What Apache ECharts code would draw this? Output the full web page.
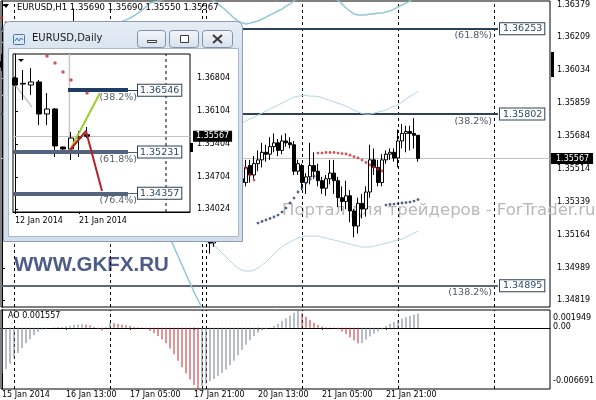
<!DOCTYPE html>
<html><head><meta charset="utf-8">
<script src="https://cdn.jsdelivr.net/npm/echarts@6/dist/echarts.min.js"></script>
<style>html,body{margin:0;padding:0;background:#fff}#c{width:596px;height:400px}</style>
</head><body><div id="c"></div>
<script>
// ---------------- DATA (main H1 chart) ----------------
const headerText = 'EURUSD,H1 1.35690 1.35690 1.35550 1.35567';
const barOpen = [1.36080,1.36050,1.36040,1.36040,1.36080,1.36120,1.36160,1.36140,1.36110,1.36130,1.36190,1.36230,1.36170,1.36110,1.36150,1.36200,1.36250,1.36220,1.36160,1.36240,1.36210,1.36180,1.36200,1.36170,1.36150,1.36160,1.36150,
1.36146,1.36120,1.36090,1.36040,1.36010,1.35990,1.35970,1.35900,1.35800,1.35690,1.35640,1.35580,1.35520,1.35460,1.35420,1.35330,1.35280,1.35360,1.35400,1.35350,1.35320,1.35340,1.35350,
1.35339,1.35297,1.35180,1.35120,1.35200,1.35260,1.35300,1.35330,1.35370,1.35420,1.35460,
1.35440,1.35530,1.35480,1.35540,1.35560,1.35600,1.35590,1.35630,1.35650,1.35610,1.35660,1.35650,1.35640,1.35500,
1.35530,1.35440,1.35470,1.35530,1.35500,1.35450,1.35410,1.35460,1.35490,1.35450,1.35360,1.35340,1.35370,1.35290,1.35210,1.35330,1.35300,1.35390,1.35560,1.35520,1.35440,1.35560,1.35590,1.35600,
1.35570,1.35660,1.35700,1.35710,1.35700,1.35690];
const barHigh = [1.36120,1.36090,1.36070,1.36100,1.36150,1.36180,1.36210,1.36170,1.36150,1.36200,1.36260,1.36280,1.36240,1.36180,1.36220,1.36280,1.36285,1.36270,1.36360,1.36280,1.36260,1.36230,1.36240,1.36210,1.36190,1.36190,1.36180,
1.36167,1.36150,1.36120,1.36070,1.36050,1.36030,1.36000,1.35940,1.35850,1.35760,1.35700,1.35640,1.35590,1.35520,1.35480,1.35420,1.35380,1.35440,1.35450,1.35400,1.35380,1.35390,1.35380,
1.35350,1.35320,1.35220,1.35230,1.35290,1.35320,1.35350,1.35390,1.35460,1.35500,1.35520,
1.35560,1.35560,1.35580,1.35610,1.35650,1.35640,1.35680,1.35700,1.35670,1.35690,1.35700,1.35680,1.35660,1.35560,
1.35540,1.35490,1.35650,1.35600,1.35540,1.35470,1.35480,1.35560,1.35560,1.35470,1.35420,1.35450,1.35400,1.35300,1.35360,1.35380,1.35420,1.35640,1.35620,1.35560,1.35590,1.35610,1.35620,1.35620,
1.35720,1.35750,1.35740,1.35740,1.35781,1.35690];
const barLow = [1.36030,1.36010,1.36000,1.36020,1.36060,1.36090,1.36120,1.36100,1.36080,1.36110,1.36150,1.36140,1.36080,1.36050,1.36100,1.36160,1.36190,1.36120,1.36100,1.36180,1.36130,1.36140,1.36150,1.36120,1.36110,1.36130,1.36120,
1.36100,1.36070,1.36020,1.35980,1.35960,1.35940,1.35880,1.35760,1.35650,1.35600,1.35540,1.35490,1.35420,1.35380,1.35290,1.35210,1.35127,1.35300,1.35330,1.35290,1.35280,1.35300,1.35320,
1.35280,1.35150,1.35064,1.35100,1.35170,1.35220,1.35260,1.35290,1.35340,1.35380,1.35410,
1.35420,1.35440,1.35460,1.35500,1.35520,1.35550,1.35560,1.35600,1.35580,1.35590,1.35630,1.35620,1.35480,1.35480,
1.35400,1.35380,1.35430,1.35460,1.35420,1.35380,1.35370,1.35430,1.35380,1.35310,1.35290,1.35300,1.35230,1.35150,1.35170,1.35250,1.35260,1.35360,1.35480,1.35420,1.35420,1.35540,1.35560,1.35550,
1.35520,1.35620,1.35600,1.35610,1.35620,1.35550];
const barClose = [1.36050,1.36040,1.36040,1.36080,1.36120,1.36160,1.36140,1.36110,1.36130,1.36190,1.36230,1.36170,1.36110,1.36150,1.36200,1.36250,1.36220,1.36160,1.36240,1.36210,1.36180,1.36200,1.36170,1.36150,1.36160,1.36150,1.36146,
1.36120,1.36090,1.36040,1.36010,1.35990,1.35970,1.35900,1.35800,1.35690,1.35640,1.35580,1.35520,1.35460,1.35420,1.35330,1.35280,1.35360,1.35400,1.35350,1.35320,1.35340,1.35350,1.35361,
1.35297,1.35180,1.35120,1.35200,1.35260,1.35300,1.35330,1.35370,1.35420,1.35460,1.35440,
1.35520,1.35480,1.35540,1.35560,1.35600,1.35590,1.35630,1.35650,1.35610,1.35660,1.35650,1.35640,1.35500,1.35540,
1.35440,1.35470,1.35530,1.35500,1.35450,1.35410,1.35460,1.35490,1.35450,1.35360,1.35340,1.35370,1.35290,1.35210,1.35330,1.35300,1.35390,1.35560,1.35520,1.35440,1.35560,1.35590,1.35600,1.35570,
1.35660,1.35700,1.35710,1.35700,1.35690,1.35567];

const bandOuterUpper = [1.36180,1.36185,1.36190,1.36195,1.36200,1.36205,1.36210,1.36215,1.36220,1.36225,1.36230,1.36235,1.36240,1.36245,1.36250,1.36255,1.36258,1.36260,1.36262,1.36264,1.36266,1.36268,1.36270,1.36272,1.36274,1.36276,1.36278,
1.36280,1.36283,1.36287,1.36292,1.36300,1.36310,1.36322,1.36336,1.36352,1.36368,1.36389,1.36395,1.36400,1.36405,1.36412,1.36420,1.36428,1.36436,
1.36444,1.36450,1.36452,1.36450,1.36445,1.36438,1.36428,1.36415,1.36400,1.36385,1.36368,1.36350,1.36330,1.36310,1.36295,1.36285,
1.36278,1.36283,1.36289,1.36294,1.36305,1.36315,1.36326,1.36336,1.36347,1.36357,1.36373,1.36384,1.36400,1.36416,1.36431,1.36442,1.36447,1.36447,1.36442,1.36431,1.36421,1.36416,1.36410,1.36405,
1.36384,1.36363,1.36347,1.36331,1.36326,1.36326,1.36326,1.36331,1.36331,1.36336,1.36336,1.36342,1.36347,1.36357,1.36368,1.36379,1.36389,1.36400,1.36416,1.36431];
const bandInnerUpper = [1.36240,1.36245,1.36250,1.36255,1.36260,1.36262,1.36265,1.36268,1.36270,1.36270,1.36270,1.36268,1.36265,1.36262,1.36260,1.36258,1.36255,1.36252,1.36250,1.36250,1.36248,1.36245,1.36242,1.36240,1.36238,1.36235,1.36232,
1.36230,1.36228,1.36225,1.36222,1.36220,1.36220,1.36222,1.36225,1.36230,1.36235,1.36240,1.36240,1.36238,1.36230,1.36220,1.36200,1.36170,1.36130,1.36080,1.36030,1.35980,1.35930,1.35880,1.35840,1.35800,1.35770,1.35750,1.35740,1.35735,1.35735,1.35740,1.35745,1.35750,1.35755,
1.35765,1.35776,1.35786,1.35797,1.35807,1.35818,1.35829,1.35839,1.35850,1.35860,1.35871,1.35881,1.35892,1.35897,1.35900,1.35900,1.35897,1.35897,1.35895,1.35889,1.35881,1.35874,1.35866,1.35860,
1.35852,1.35844,1.35834,1.35823,1.35813,1.35805,1.35802,1.35802,1.35807,1.35813,1.35818,1.35823,1.35834,1.35844,1.35852,1.35866,1.35881,1.35897,1.35908,1.35924];
const bandInnerLower = [1.35990,1.35992,1.35994,1.35996,1.35998,1.36000,1.36002,1.36004,1.36006,1.36008,1.36010,1.36012,1.36014,1.36015,1.36016,1.36017,1.36018,1.36018,1.36018,1.36017,1.36016,1.36015,1.36014,1.36012,1.36010,1.36008,1.36005,
1.35982,1.35955,1.35929,1.35876,1.35823,1.35770,1.35718,1.35665,1.35612,1.35559,1.35506,1.35453,1.35400,1.35347,1.35305,1.35268,1.35231,1.35199,1.35178,1.35162,1.35152,1.35141,1.35136,1.35131,1.35125,1.35120,
1.35109,1.35088,1.35067,1.35046,1.35025,1.35004,1.34988,1.34977,1.34972,1.34972,1.34977,1.34988,1.35004,1.35020,1.35041,1.35062,1.35083,1.35099,1.35115,1.35125,1.35136,1.35147,1.35152,1.35157,
1.35157,1.35157,1.35157,1.35152,1.35147,1.35141,1.35136,1.35131,1.35125,1.35120,1.35115,1.35109,1.35104,1.35099,1.35099,1.35099,1.35104,1.35109,1.35115,1.35120,1.35125,1.35131,1.35136,1.35141,1.35152,1.35162,1.35173,1.35183];
const bandOuterLower = [1.35900,1.35902,1.35904,1.35906,1.35908,1.35910,1.35912,1.35914,1.35915,1.35916,1.35917,1.35918,1.35918,1.35918,1.35917,1.35916,1.35915,1.35914,1.35912,1.35910,1.35908,1.35906,1.35904,1.35902,1.35900,1.35898,1.35895,
1.35890,1.35880,1.35860,1.35840,1.35810,1.35770,1.35720,1.35660,1.35590,1.35510,1.35430,1.35350,1.35290,1.35240,1.35189,1.35147,1.35099,1.35051,1.35004,1.34956,1.34909,1.34861,1.34819,1.34776,
1.34730,1.34690,1.34650,1.34620,1.34590,1.34570,1.34550,1.34540,1.34530,1.34525,1.34520,1.34515,1.34512,1.34510,1.34510,1.34512,1.34515,1.34520,1.34525,1.34530,1.34535,1.34540,1.34545,1.34550,
1.34555,1.34560,1.34565,1.34570,1.34575,1.34580,1.34585,1.34590,1.34595,1.34600,1.34600,1.34600,1.34600,1.34600,1.34600,1.34600,1.34600,1.34600,1.34600,1.34600,1.34600,1.34600,1.34600,1.34600,1.34600,1.34600,1.34600,1.34600,1.34600,1.34600];

// Parabolic SAR: dots above price (red) and below price (blue); null where absent
const sarAbove = [1.36310,1.36285,1.36270,1.36255,null,null,null,null,null,null,null,null,null,null,null,null,null,null,null,null,
1.36280,1.36275,1.36270,1.36265,1.36260,1.36255,1.36250,1.36245,1.36240,1.36235,1.36228,1.36220,
1.36205,1.36185,1.36160,1.36130,1.36095,1.36055,1.36010,1.35960,1.35905,1.35845,1.35780,1.35715,
1.35700,1.35690,1.35680,1.35670,1.35660,1.35650,1.35640,1.35630,1.35620,1.35610,1.35600,1.35590,1.35580,1.35570,1.35560,1.35545,1.35530,
1.35517,1.35480,1.35453,null,null,null,null,null,null,null,null,null,null,null,null,null,null,null,
1.35596,1.35596,1.35599,1.35599,1.35599,1.35596,1.35593,1.35591,1.35585,1.35577,1.35570,1.35559,1.35546,1.35533,1.35522,1.35511,1.35501,
null,null,null,null,null,null,null,null,null];
const sarBelow = [null,null,null,null,1.36000,1.36003,1.36008,1.36015,1.36022,1.36030,1.36040,1.36050,1.36062,1.36075,1.36090,1.36100,1.36110,1.36120,1.36130,1.36140,
null,null,null,null,null,null,null,null,null,null,null,null,null,null,null,null,null,null,null,null,null,null,null,null,
null,null,null,null,null,null,null,null,null,null,null,null,null,null,null,null,null,
null,null,null,1.35226,1.35234,1.35242,1.35250,1.35258,1.35268,1.35284,1.35305,1.35332,1.35358,1.35390,1.35411,1.35437,1.35458,1.35474,
null,null,null,null,null,null,null,null,null,null,null,null,null,null,null,null,null,
1.35321,1.35324,1.35326,1.35329,1.35332,1.35334,1.35337,1.35342,1.35350];

// Awesome Oscillator
const aoValues = [-0.00497,-0.00451,-0.00390,-0.00330,-0.00275,-0.00220,-0.00170,-0.00125,-0.00080,-0.00045,
-0.00020,-0.00008,0.00002,0.00006,0.00010,0.00012,0.00016,0.00022,0.00030,0.00036,0.00040,
0.00034,0.00025,0.00010,-0.00010,-0.00030,0.00010,0.00055,
0.00050,0.00042,0.00035,0.00028,0.00020,0.00012,0.00005,-0.00002,-0.00008,
-0.00035,-0.00060,-0.00090,-0.00125,-0.00170,-0.00225,-0.00290,-0.00360,-0.00430,-0.00500,-0.00565,-0.00625,-0.006691,
-0.00640,-0.00610,-0.00585,-0.00560,-0.00530,-0.00495,-0.00455,-0.00410,-0.00360,-0.00300,-0.00240,-0.00185,-0.00135,-0.00090,-0.00055,-0.00030,-0.00012,-0.00002,
0.00020,0.00045,0.00075,0.00105,0.00135,0.00165,0.001949,
0.00160,0.00120,0.00085,0.00055,0.00030,0.00015,0.00005,-0.00002,-0.00008,-0.00015,
-0.00040,-0.00070,-0.00105,-0.00140,-0.00170,
-0.00165,-0.00130,-0.00095,-0.00065,-0.00040,-0.00015,
0.00020,0.00045,0.00065,0.00085,0.00100,0.00115,0.00128,0.00142,0.001557];
const aoHeader = 'AO 0.001557';

const priceTicks = [1.36379,1.36209,1.36034,1.35859,1.35684,1.35514,1.35339,1.35164,1.34989,1.34819];
const aoTicks = [0.001949, 0, -0.006691];
const aoTickLabels = ['0.001949','0.00','-0.006691'];
const xTickIndex = [0,16,32,48,64,80,96];
const xTickLabels = ['15 Jan 2014','16 Jan 13:00','17 Jan 05:00','17 Jan 21:00','20 Jan 13:00','21 Jan 05:00','21 Jan 21:00'];
const daySeparators = [3,27,50,51,75,99,123];
const fibLevels = [1.36253,1.35802,1.34895];
const fibPercents = ['(61.8%)','(38.2%)','(138.2%)'];
const fibEndIndex = 124;
const lastPrice = 1.35567;
const watermark = 'Портал для трейдеров - ForTrader.ru';
const brand = 'WWW.GKFX.RU';

// ---------------- DATA (inset daily chart) ----------------
const insetTitle = 'EURUSD,Daily';
const dailyOpen  = [1.36804,1.36690,1.36655,1.36719,1.36040,1.36146,1.35339,1.35297,1.35530,1.35600];
const dailyHigh  = [1.36830,1.36973,1.37016,1.36761,1.36485,1.36167,1.35350,1.35658,1.35679,1.35764];
const dailyLow   = [1.36630,1.36337,1.36443,1.35806,1.35806,1.35127,1.35280,1.35064,1.35127,1.35530];
const dailyClose = [1.36655,1.36676,1.36719,1.36040,1.36146,1.35361,1.35297,1.35530,1.35552,1.35567];
const dailySar   = [null,null,null,null,1.37271,1.37122,1.36931,1.36761,null,1.36485];
const dailyTickIndex = [0,8];
const dailyTickLabels = ['12 Jan 2014','21 Jan 2014'];
const insetTicks = [1.36804,1.36104,1.35404,1.34704,1.34024];
const insetFibLevels = [1.36546,1.35231,1.34357];
const insetFibPercents = ['(38.2%)','(61.8%)','(76.4%)'];
const insetFibStart = [6.625,-0.25,-0.25];
const insetFibEnd = 14.125;
const insetFibLabelAt = 15.375;
const insetGreenLine = [[6.875,1.35276],[10.625,1.36485]];
const insetRedLine = [[6.875,1.35276],[8.875,1.35679],[10.875,1.34406]];
const insetGrayTrend = [[-0.25,1.36719],[2.125,1.36188]];
// vertical lines in the inset: [x, from price, to price]
const insetSeparatorLines = [[18.875,1.33960,1.37313]];
const insetGrayVerticalLines = [[6.8,1.35231,1.37313]];

// ---------------- CHART ----------------
const FONT = 'DejaVu Sans';
const fmt5 = v => v.toFixed(5);
const nearestIdx = (arr, v) => { let b = 0; for (let i = 1; i < arr.length; i++) if (Math.abs(arr[i]-v) < Math.abs(arr[b]-v)) b = i; return b; };

const X_MIN = -0.25, X_MAX = 137, Y_MIN = 1.34782, Y_MAX = 1.36400;
const IX_MIN = -0.25, IX_MAX = 21.875, IY_MIN = 1.33960, IY_MAX = 1.37313;

const candleData = barOpen.map((o,i)=>[i,o,barClose[i],barLow[i],barHigh[i]]);
const toXY = arr => arr.map((v,i)=>[i,v]);
const AO_UP = '#6f7c8c', AO_DOWN = '#c22a30';
const aoData = aoValues.map((v,i)=>({value:[i,v], itemStyle:{color: (i===0 || v > aoValues[i-1]) ? AO_UP : AO_DOWN}}));
const dailyData = dailyOpen.map((o,i)=>[i,o,dailyClose[i],dailyLow[i],dailyHigh[i]]);

const fibColors = ['#2d4254','#2d4254','#5b6878'];
const fibMarks = [];
fibLevels.forEach((lv,k)=>{
  const ls = {color: fibColors[k], width: 2, type:'solid'};
  fibMarks.push([{coord:[X_MIN,lv], lineStyle: ls, label:{show:true, position:'end', distance:2, formatter: fmt5(lv),
      backgroundColor:'#fff', borderColor:'#2d4254', borderWidth:1, padding:[1,2,0,3], color:'#2d4a60', fontSize:9.5, fontFamily:FONT}},
    {coord:[fibEndIndex,lv]}]);
  fibMarks.push([{coord:[X_MIN,lv], lineStyle: ls, label:{show:true, position:'insideEndBottom', distance:[6,2], formatter: fibPercents[k],
      color:'#505a64', fontSize:9.5, fontFamily:FONT}},
    {coord:[fibEndIndex,lv]}]);
});

const insetMarks = [];
const insetFibColors = ['#1f3c66','#56637f','#56637f'];
insetFibLevels.forEach((lv,k)=>{
  insetMarks.push([{coord:[insetFibStart[k],lv], lineStyle:{color:insetFibColors[k], width:4, type:'solid'}, label:{show:false}},{coord:[insetFibEnd,lv]}]);
  insetMarks.push([{coord:[insetFibEnd,lv], lineStyle:{color:insetFibColors[k], width:1, type:'solid'}, label:{show:true, position:'end', distance:0, formatter: fmt5(lv),
      backgroundColor:'#fff', borderColor:'#2d4254', borderWidth:1, padding:[1,2,0,2], color:'#2d4a60', fontSize:9.5, fontFamily:FONT}},{coord:[insetFibLabelAt,lv]}]);
  insetMarks.push([{coord:[insetFibEnd,lv], lineStyle:{color:insetFibColors[k], width:1, type:'solid'}, label:{show:true, position:'insideEndBottom', distance:[1,2], formatter: insetFibPercents[k],
      color:'#56606c', fontSize:9.5, fontFamily:FONT}},{coord:[insetFibLabelAt,lv]}]);
});

// custom renderer for vertical segments in data coordinates
const verticalSegment = (stroke, width, dash) => (params, api) => {
  const a = api.coord([api.value(0), api.value(1)]);
  const b = api.coord([api.value(0), api.value(2)]);
  return {type:'line', shape:{x1:a[0], y1:a[1], x2:b[0], y2:b[1]}, style:{stroke:stroke, lineWidth:width, lineDash:dash, fill:null}};
};

const axisLabelBase = {color:'#000', fontSize:8, fontFamily:FONT};
const chart = echarts.init(document.getElementById('c'), null, {renderer:'canvas', width:596, height:400});
const Z = 60;

chart.setOption({
  animation:false,
  textStyle:{fontFamily:FONT},
  grid:[
    {left:1, top:1, width:549, height:306, show:true, borderColor:'#000', borderWidth:1, backgroundColor:'transparent', outerBoundsMode:'none', containLabel:false},
    {left:1, top:310, width:549, height:79, show:true, borderColor:'#000', borderWidth:1, backgroundColor:'transparent', outerBoundsMode:'none', containLabel:false},
    {left:13, top:54, width:177, height:158, show:true, borderColor:'#000', borderWidth:1, backgroundColor:'#fff', z:Z, outerBoundsMode:'none', containLabel:false}
  ],
  xAxis:[
    {gridIndex:0, type:'value', min:X_MIN, max:X_MAX, show:false},
    {gridIndex:1, type:'value', min:X_MIN, max:X_MAX,
      axisLine:{show:true, lineStyle:{color:'#000'}}, splitLine:{show:false},
      axisTick:{show:true, customValues:xTickIndex, length:2, lineStyle:{color:'#000'}},
      axisLabel:Object.assign({}, axisLabelBase, {customValues:xTickIndex, align:'left', margin:2,
        formatter:v=>xTickLabels[nearestIdx(xTickIndex,v)]})},
    {gridIndex:2, type:'value', min:IX_MIN, max:IX_MAX, z:Z,
      axisLine:{show:true, lineStyle:{color:'#000'}}, splitLine:{show:false},
      axisTick:{show:true, customValues:dailyTickIndex, length:2, lineStyle:{color:'#000'}},
      axisLabel:Object.assign({}, axisLabelBase, {customValues:dailyTickIndex, align:'left', margin:5,
        formatter:v=>dailyTickLabels[nearestIdx(dailyTickIndex,v)]})}
  ],
  yAxis:[
    {gridIndex:0, type:'value', position:'right', min:Y_MIN, max:Y_MAX, scale:true,
      axisLine:{show:true, lineStyle:{color:'#000'}}, splitLine:{show:false},
      axisTick:{show:true, customValues:priceTicks, length:3, lineStyle:{color:'#000'}},
      axisLabel:Object.assign({}, axisLabelBase, {customValues:priceTicks, margin:7, formatter:v=>fmt5(v)})},
    {gridIndex:1, type:'value', position:'right', min:-0.006691, max:0.001949, scale:true,
      axisLine:{show:true, lineStyle:{color:'#000'}}, splitLine:{show:false},
      axisTick:{show:true, customValues:[0], length:3, lineStyle:{color:'#000'}},
      axisLabel:Object.assign({}, axisLabelBase, {customValues:aoTicks, margin:3,
        formatter:v=>{const i=nearestIdx(aoTicks,v); return '{'+['t','m','b'][i]+'|'+aoTickLabels[i]+'}';},
        rich:{t:{fontSize:8,color:'#000',padding:[15,0,0,0]}, m:{fontSize:8,color:'#000',padding:[0,0,1,0]}, b:{fontSize:8,color:'#000',padding:[0,0,16,0]}}})},
    {gridIndex:2, type:'value', position:'right', min:IY_MIN, max:IY_MAX, scale:true, z:Z,
      axisLine:{show:true, lineStyle:{color:'#000'}}, splitLine:{show:false},
      axisTick:{show:true, customValues:insetTicks, length:3, lineStyle:{color:'#000'}},
      axisLabel:Object.assign({}, axisLabelBase, {customValues:insetTicks, margin:7, formatter:v=>fmt5(v)})}
  ],
  series:[
    // main pane: separators, last price, fib levels
    {type:'line', xAxisIndex:0, yAxisIndex:0, data:[], z:1, silent:true,
      markLine:{symbol:'none', silent:true, animation:false, z:1, label:{show:false},
        lineStyle:{color:'#000', width:1, type:[3,3]},
        data: daySeparators.map(s=>[{coord:[s,Y_MIN]},{coord:[s,Y_MAX]}]).concat([
          [{coord:[X_MIN,lastPrice], lineStyle:{color:'#c4c4c4', width:1, type:'solid'},
            label:{show:true, position:'end', distance:1, formatter:fmt5(lastPrice), backgroundColor:'#000', color:'#fff', padding:[2,4,1,5], fontSize:8, fontFamily:FONT}},
           {coord:[X_MAX,lastPrice]}]
        ])}},
    {type:'line', xAxisIndex:0, yAxisIndex:0, data:[], z:2, silent:true,
      markLine:{symbol:'none', silent:true, animation:false, z:2, data: fibMarks}},
    {type:'line', xAxisIndex:0, yAxisIndex:0, data:toXY(bandOuterUpper), showSymbol:false, z:2, lineStyle:{color:'#93c6d8', width:1.5}},
    {type:'line', xAxisIndex:0, yAxisIndex:0, data:toXY(bandOuterLower), showSymbol:false, z:2, lineStyle:{color:'#93c6d8', width:1.5}},
    {type:'line', xAxisIndex:0, yAxisIndex:0, data:toXY(bandInnerUpper), showSymbol:false, z:2, lineStyle:{color:'#b4d6e4', width:1}},
    {type:'line', xAxisIndex:0, yAxisIndex:0, data:toXY(bandInnerLower), showSymbol:false, z:2, lineStyle:{color:'#b4d6e4', width:1}},
    {type:'candlestick', xAxisIndex:0, yAxisIndex:0, data:candleData, encode:{x:0, y:[1,2,3,4]}, barWidth:3, z:3,
      itemStyle:{color:'#fff', color0:'#000', borderColor:'#000', borderColor0:'#000', borderWidth:1}},
    {type:'scatter', xAxisIndex:0, yAxisIndex:0, data:toXY(sarAbove).filter(d=>d[1]!==null), symbol:'circle', symbolSize:2.8, z:4, itemStyle:{color:'#c8282d'}},
    {type:'scatter', xAxisIndex:0, yAxisIndex:0, data:toXY(sarBelow).filter(d=>d[1]!==null), symbol:'circle', symbolSize:2.8, z:4, itemStyle:{color:'#263d66'}},
    // AO pane
    {type:'bar', xAxisIndex:1, yAxisIndex:1, data:aoData, barWidth:1, z:3},
    {type:'line', xAxisIndex:1, yAxisIndex:1, data:[], z:1, silent:true,
      markLine:{symbol:'none', silent:true, animation:false, z:1, label:{show:false},
        lineStyle:{color:'#000', width:1, type:[3,3]},
        data: daySeparators.map(s=>[{coord:[s,-0.006691]},{coord:[s,0.001949]}])}},
    // inset daily chart
    {type:'custom', xAxisIndex:2, yAxisIndex:2, z:Z+1, silent:true, clip:false, data:insetSeparatorLines,
      encode:{x:0, y:[1,2]}, renderItem: verticalSegment('#000', 1, [3,3])},
    {type:'custom', xAxisIndex:2, yAxisIndex:2, z:Z+1, silent:true, clip:false, data:insetGrayVerticalLines,
      encode:{x:0, y:[1,2]}, renderItem: verticalSegment('#c8c8c8', 1.5, null)},
    {type:'line', xAxisIndex:2, yAxisIndex:2, data:[], z:Z+1, silent:true,
      markLine:{symbol:'none', silent:true, animation:false, z:Z+1,
        data: [
          [{coord:[IX_MIN,lastPrice], lineStyle:{color:'#c4c4c4', width:1, type:'solid'},
            label:{show:true, position:'end', distance:3, formatter:fmt5(lastPrice), backgroundColor:'#000', color:'#fff', padding:[2,3,1,3], fontSize:8, fontFamily:FONT}},
           {coord:[IX_MAX,lastPrice]}]
        ]}},
    {type:'line', xAxisIndex:2, yAxisIndex:2, data:insetGrayTrend, showSymbol:false, z:Z+1, lineStyle:{color:'#c8c8c8', width:1.5}},
    {type:'candlestick', xAxisIndex:2, yAxisIndex:2, data:dailyData, encode:{x:0, y:[1,2,3,4]}, barWidth:5, z:Z+2,
      itemStyle:{color:'#fff', color0:'#000', borderColor:'#000', borderColor0:'#000', borderWidth:1}},
    {type:'line', xAxisIndex:2, yAxisIndex:2, data:[], z:Z+3, silent:true,
      markLine:{symbol:'none', silent:true, animation:false, z:Z+3, data: insetMarks}},
    {type:'line', xAxisIndex:2, yAxisIndex:2, data:insetGreenLine, showSymbol:false, z:Z+4, lineStyle:{color:'#9ccc2e', width:2}},
    {type:'line', xAxisIndex:2, yAxisIndex:2, data:insetRedLine, showSymbol:false, z:Z+4, lineStyle:{color:'#b5202a', width:2}},
    {type:'scatter', xAxisIndex:2, yAxisIndex:2, data:toXY(dailySar).filter(d=>d[1]!==null), symbol:'circle', symbolSize:3.5, z:Z+4, itemStyle:{color:'#c8282d'}}
  ],
  graphic:{elements:[
    // main header
    {type:'polygon', z:5, shape:{points:[[3,4],[9,4],[6,8]]}, style:{fill:'#000'}},
    {type:'text', z:5, left:17, top:3, style:{text:headerText, font:'8.5px "DejaVu Sans"', fill:'#000'}},
    {type:'text', z:5, left:8, top:312, style:{text:aoHeader, font:'8px "DejaVu Sans"', fill:'#000'}},
    {type:'rect', z:5, shape:{x:551, y:52, width:3, height:25}, style:{fill:'#000'}},
    // watermark & brand (under the window)
    {type:'text', z:0, left:282, top:202, style:{text:watermark, font:'16.5px "DejaVu Sans"', fill:'#b8b8b8'}},
    {type:'text', z:0, left:14, top:255, style:{text:brand, font:'bold 20.5px "Liberation Sans"', fill:'#4d5c8b'}},
    // inset window frame
    {type:'rect', z:50, shape:{x:3.5, y:21.5, width:239, height:220, r:[6,6,0,0]},
      style:{fill:new echarts.graphic.LinearGradient(0,0,0,1,[{offset:0,color:'#e6edf6'},{offset:0.15,color:'#d8e3ef'},{offset:1,color:'#d2deeb'}]), stroke:'#8c9db2', lineWidth:1}},
    {type:'rect', z:51, shape:{x:8.5, y:48.5, width:230, height:188}, style:{fill:'#fff', stroke:'#a9b8ca', lineWidth:1}},
    {type:'rect', z:51, shape:{x:13.5, y:34.5, width:11, height:10, r:1}, style:{fill:'#d8e8f7', stroke:'#4c79aa', lineWidth:1}},
    {type:'polyline', z:52, shape:{points:[[15,41],[17,38],[19,41],[21,38],[23,40]]}, style:{stroke:'#3b6ea8', lineWidth:1, fill:null}},
    {type:'text', z:51, left:32, top:33, style:{text:insetTitle, font:'10px "DejaVu Sans"', fill:'#1b1b1b'}},
    {type:'rect', z:51, shape:{x:137.5, y:30.5, width:28, height:17, r:3},
      style:{fill:new echarts.graphic.LinearGradient(0,0,0,1,[{offset:0,color:'#f4f7fb'},{offset:1,color:'#d5e0ec'}]), stroke:'#7f91a7', lineWidth:1}},
    {type:'rect', z:52, shape:{x:147.5, y:40.5, width:9, height:2}, style:{fill:'#fff', stroke:'#3a3a3a', lineWidth:1}},
    {type:'rect', z:51, shape:{x:169.5, y:30.5, width:29, height:17, r:3},
      style:{fill:new echarts.graphic.LinearGradient(0,0,0,1,[{offset:0,color:'#f4f7fb'},{offset:1,color:'#d5e0ec'}]), stroke:'#7f91a7', lineWidth:1}},
    {type:'rect', z:52, shape:{x:180.5, y:35.5, width:8, height:7}, style:{fill:'#fff', stroke:'#3a3a3a', lineWidth:1}},
    {type:'rect', z:51, shape:{x:202.5, y:30.5, width:30, height:17, r:3},
      style:{fill:new echarts.graphic.LinearGradient(0,0,0,1,[{offset:0,color:'#f4f7fb'},{offset:1,color:'#d5e0ec'}]), stroke:'#7f91a7', lineWidth:1}},
    {type:'line', z:52, shape:{x1:213, y1:35, x2:222, y2:43}, style:{stroke:'#3a3a3a', lineWidth:2}},
    {type:'line', z:52, shape:{x1:222, y1:35, x2:213, y2:43}, style:{stroke:'#3a3a3a', lineWidth:2}},
    {type:'polygon', z:Z+5, shape:{points:[[18,59],[24,59],[21,62]]}, style:{fill:'#000'}},
    {type:'rect', z:Z+5, shape:{x:190, y:143, width:3, height:9}, style:{fill:'#000'}}
  ]}
});
</script>
</body></html>
